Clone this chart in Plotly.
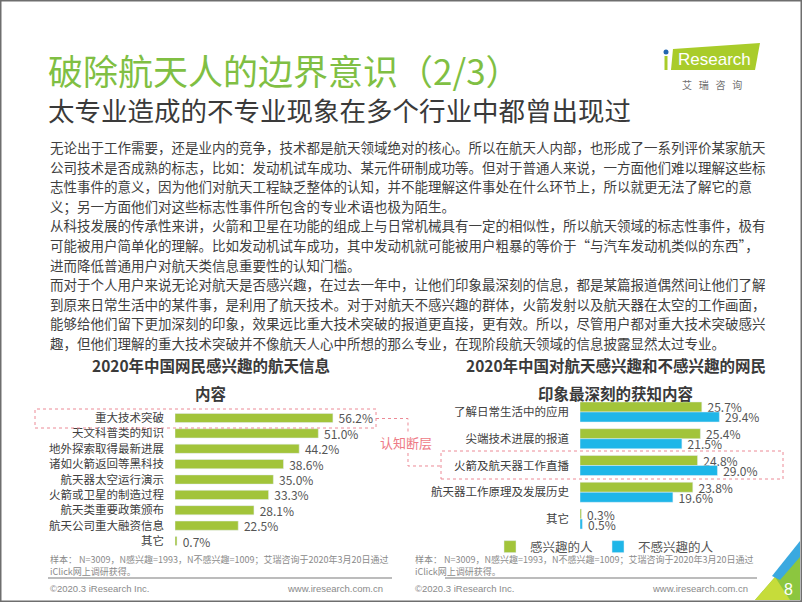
import plotly.graph_objects as go

W, H = 802, 602

# ---------------- data ----------------
left_categories = ["重大技术突破", "天文科普类的知识", "地外探索取得最新进展", "诸如火箭返回等黑科技",
                   "航天器太空运行演示", "火箭或卫星的制造过程", "航天类重要政策颁布", "航天公司重大融资信息", "其它"]
left_values = [56.2, 51.0, 44.2, 38.6, 35.0, 33.3, 28.1, 22.5, 0.7]

right_categories = ["了解日常生活中的应用", "尖端技术进展的报道", "火箭及航天器工作直播", "航天器工作原理及发展历史", "其它"]
interested_values = [25.7, 25.4, 24.8, 23.8, 0.3]
not_interested_values = [29.4, 21.5, 29.0, 19.6, 0.5]
series_names = ["感兴趣的人", "不感兴趣的人"]

title_text = "破除航天人的边界意识（2/3）"
subtitle_text = "太专业造成的不专业现象在多个行业中都曾出现过"
body_lines = [
    "无论出于工作需要，还是业内的竞争，技术都是航天领域绝对的核心。所以在航天人内部，也形成了一系列评价某家航天",
    "公司技术是否成熟的标志，比如：发动机试车成功、某元件研制成功等。但对于普通人来说，一方面他们难以理解这些标",
    "志性事件的意义，因为他们对航天工程缺乏整体的认知，并不能理解这件事处在什么环节上，所以就更无法了解它的意",
    "义；另一方面他们对这些标志性事件所包含的专业术语也极为陌生。",
    "从科技发展的传承性来讲，火箭和卫星在功能的组成上与日常机械具有一定的相似性，所以航天领域的标志性事件，极有",
    "可能被用户简单化的理解。比如发动机试车成功，其中发动机就可能被用户粗暴的等价于“与汽车发动机类似的东西”，",
    "进而降低普通用户对航天类信息重要性的认知门槛。",
    "而对于个人用户来说无论对航天是否感兴趣，在过去一年中，让他们印象最深刻的信息，都是某篇报道偶然间让他们了解",
    "到原来日常生活中的某件事，是利用了航天技术。对于对航天不感兴趣的群体，火箭发射以及航天器在太空的工作画面，",
    "能够给他们留下更加深刻的印象，效果远比重大技术突破的报道更直接，更有效。所以，尽管用户都对重大技术突破感兴",
    "趣，但他们理解的重大技术突破并不像航天人心中所想的那么专业，在现阶段航天领域的信息披露显然太过专业。",
]
left_chart_title = ["2020年中国网民感兴趣的航天信息", "内容"]
right_chart_title = ["2020年中国对航天感兴趣和不感兴趣的网民", "印象最深刻的获知内容"]
source_lines = ["样本： N=3009，N感兴趣=1993，N不感兴趣=1009；艾瑞咨询于2020年3月20日通过",
                "iClick网上调研获得。"]
gap_label = "认知断层"

# ---------------- styles ----------------
GREEN = "#a2c43a"
BLUE = "#1fb6e8"
TITLE_GREEN = "#80bf43"
PINK = "#ec8a96"
CJK = "Noto Sans CJK SC"
TXT = "#404040"


def px(x):
    return x / W


def py(y):
    return 1 - y / H


fig = go.Figure()

# left chart
fig.add_trace(go.Bar(
    y=left_categories, x=left_values, orientation="h",
    marker=dict(color=GREEN), width=0.6,
    text=[" %.1f%%" % v for v in left_values], textposition="outside",
    textfont=dict(family=CJK, size=12, color="#555555"),
    constraintext="none", cliponaxis=False,
    xaxis="x", yaxis="y", showlegend=False, hoverinfo="skip"))

# right chart
fig.add_trace(go.Bar(
    y=right_categories, x=interested_values, orientation="h", name=series_names[0],
    marker=dict(color=GREEN),
    text=[" %.1f%%" % v for v in interested_values], textposition="outside",
    textfont=dict(family=CJK, size=12, color="#555555"),
    constraintext="none", cliponaxis=False,
    xaxis="x2", yaxis="y2", hoverinfo="skip"))
fig.add_trace(go.Bar(
    y=right_categories, x=not_interested_values, orientation="h", name=series_names[1],
    marker=dict(color=BLUE),
    text=[" %.1f%%" % v for v in not_interested_values], textposition="outside",
    textfont=dict(family=CJK, size=12, color="#555555"),
    constraintext="none", cliponaxis=False,
    xaxis="x2", yaxis="y2", hoverinfo="skip"))

hidden_x = dict(showgrid=False, zeroline=False, showticklabels=False, showline=False, fixedrange=True)
fig.update_layout(
    width=W, height=H,
    margin=dict(l=0, r=0, t=0, b=0),
    paper_bgcolor="white", plot_bgcolor="rgba(0,0,0,0)",
    barmode="group", bargap=0.25, bargroupgap=0,
    font=dict(family=CJK, color=TXT),
    xaxis=dict(domain=[px(175), px(175 + 281)], range=[0, 100], **hidden_x),
    yaxis=dict(domain=[py(548.7), py(410.3)], type="category", autorange="reversed",
               showgrid=False, zeroline=False, showline=False, ticks="",
               ticklabelstandoff=10,
               tickfont=dict(family=CJK, size=11.5, color=TXT), anchor="x"),
    xaxis2=dict(domain=[px(580), px(580 + 189.6)], range=[0, 40], anchor="y2", **hidden_x),
    yaxis2=dict(domain=[py(532.4), py(398.6)], type="category", autorange="reversed",
                showgrid=False, zeroline=False, showline=False, ticks="",
                ticklabelstandoff=10,
                tickfont=dict(family=CJK, size=11.5, color=TXT), anchor="x2"),
    legend=dict(orientation="h", x=px(490), y=py(547), xanchor="left", yanchor="middle",
                font=dict(family=CJK, size=12.5, color="#555555"),
                itemwidth=30, bgcolor="rgba(0,0,0,0)", tracegroupgap=0),
)

ann = []


def text(x, y, s, size, color=TXT, anchor="left", family=CJK, vanchor="middle"):
    ann.append(dict(x=px(x), y=py(y), xref="paper", yref="paper", text=s, showarrow=False,
                    xanchor=anchor, yanchor=vanchor, font=dict(family=family, size=size, color=color)))


# titles
text(46, 70, title_text, 35, TITLE_GREEN)
text(46, 109, subtitle_text, 26.5, "#3a3a3a")

# body
for i, line in enumerate(body_lines):
    text(48, 147 + 19.6 * i, line, 13.5, "#3f3f3f")

# chart titles
for cx, lines in [(211, left_chart_title), (616, right_chart_title)]:
    for j, line in enumerate(lines):
        text(cx, 365 + 28 * j, "<b>" + line + "</b>", 15.5, "#3a3a3a", anchor="center")

# gap label
text(406, 442, gap_label, 13, "#ee7b86", anchor="center")

# sources and footers
for base_x, right_x in [(48, 385), (413, 750)]:
    text(base_x, 559, source_lines[0], 9, "#8a8a8a")
    text(base_x, 571, source_lines[1], 9, "#8a8a8a")
    text(base_x, 588, "©2020.3 iResearch Inc.", 9.5, "#8a8a8a", family="Liberation Sans")
    text(right_x, 588, "www.iresearch.com.cn", 9.5, "#8a8a8a", anchor="right", family="Liberation Sans")

# logo texts
text(714, 59, "Research", 17, "white", anchor="center", family="Liberation Sans")
text(712, 85, "艾   瑞   咨   询", 10, "#6f6f6f", anchor="center")
text(788, 589, "8", 16, "white", anchor="center", family="Liberation Sans")

fig.update_layout(annotations=ann)


def path(points):
    s = "M " + " L ".join("%f,%f" % (px(x), py(y)) for x, y in points)
    return s


shapes = []
# pink dotted boxes and connector
for (x0, y0, x1, y1) in [(35, 409, 376, 428), (441, 451, 783, 479)]:
    shapes.append(dict(type="rect", xref="paper", yref="paper", x0=px(x0), x1=px(x1), y0=py(y1), y1=py(y0),
                       line=dict(color=PINK, width=1, dash="dot")))
shapes.append(dict(type="path", xref="paper", yref="paper", path=path([(376, 418.5), (408, 418.5), (408, 432)]),
                   line=dict(color=PINK, width=1, dash="dot")))
shapes.append(dict(type="path", xref="paper", yref="paper", path=path([(408, 453), (408, 466), (441, 466)]),
                   line=dict(color=PINK, width=1, dash="dot")))

# footer lines
shapes.append(dict(type="line", xref="paper", yref="paper", x0=px(48), x1=px(392), y0=py(578), y1=py(578),
                   line=dict(color="#a6a6a6", width=1.5)))
shapes.append(dict(type="line", xref="paper", yref="paper", x0=px(445), x1=px(757), y0=py(578), y1=py(578),
                   line=dict(color="#a6a6a6", width=1.5)))

# logo shapes
shapes.append(dict(type="path", xref="paper", yref="paper",
                   path=path([(673, 49), (760, 43), (755, 70), (671, 70)]) + " Z",
                   fillcolor="#a9cc2a", line=dict(width=0), layer="above"))
shapes.append(dict(type="rect", xref="paper", yref="paper", x0=px(664.5), x1=px(667.5), y0=py(70), y1=py(56),
                   fillcolor="#a9cc2a", line=dict(width=0), layer="above"))
shapes.append(dict(type="circle", xref="paper", yref="paper", x0=px(663.5), x1=px(668.5), y0=py(54.5), y1=py(49.5),
                   fillcolor="#2266b0", line=dict(width=0), layer="above"))

# corner decoration
shapes.append(dict(type="path", xref="paper", yref="paper", path=path([(755, 600), (800, 548), (800, 600)]) + " Z",
                   fillcolor="#8cc63f", line=dict(width=0), layer="above"))
shapes.append(dict(type="path", xref="paper", yref="paper", path=path([(755, 600), (775, 577), (790, 600)]) + " Z",
                   fillcolor="#c6dc3a", line=dict(width=0), layer="above"))
shapes.append(dict(type="path", xref="paper", yref="paper", path=path([(772, 576), (800, 541), (800, 557), (780, 580)]) + " Z",
                   fillcolor="#3aa9e0", line=dict(width=0), layer="above"))

# slide frame
shapes.append(dict(type="rect", xref="paper", yref="paper", x0=0, x1=1, y0=0, y1=1,
                   line=dict(color="#6e6e6e", width=3)))

fig.update_layout(shapes=shapes)

fig.write_html("out.html")
